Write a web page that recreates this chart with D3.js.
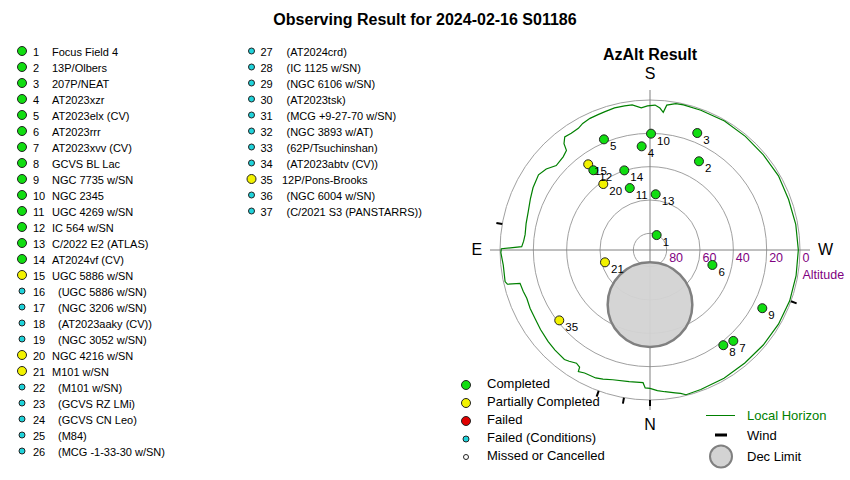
<!DOCTYPE html>
<html>
<head>
<meta charset="utf-8">
<script src="https://cdn.jsdelivr.net/npm/d3@7"></script>
<style>
  body { margin: 0; background: #fff; }
  svg { font-family: "Liberation Sans", Arial, sans-serif; display: block; }
</style>
</head>
<body>
<div id="chart"></div>
<script>
// target list (index + 1 = target number)
const targetNames = [
  "Focus Field 4", "13P/Olbers", "207P/NEAT", "AT2023xzr", "AT2023elx (CV)",
  "AT2023rrr", "AT2023xvv (CV)", "GCVS BL Lac", "NGC 7735 w/SN", "NGC 2345",
  "UGC 4269 w/SN", "IC 564 w/SN", "C/2022 E2 (ATLAS)", "AT2024vf (CV)", "UGC 5886 w/SN",
  "(UGC 5886 w/SN)", "(NGC 3206 w/SN)", "(AT2023aaky (CV))", "(NGC 3052 w/SN)", "NGC 4216 w/SN",
  "M101 w/SN", "(M101 w/SN)", "(GCVS RZ LMi)", "(GCVS CN Leo)", "(M84)",
  "(MCG -1-33-30 w/SN)", "(AT2024crd)", "(IC 1125 w/SN)", "(NGC 6106 w/SN)", "(AT2023tsk)",
  "(MCG +9-27-70 w/SN)", "(NGC 3893 w/AT)", "(62P/Tsuchinshan)", "(AT2023abtv (CV))", "12P/Pons-Brooks",
  "(NGC 6004 w/SN)", "(C/2021 S3 (PANSTARRS))"
];
// C = completed, P = partially completed, F = failed, FC = failed (conditions), M = missed
const targetStatus = [
  "C", "C", "C", "C", "C", "C", "C", "C", "C", "C",
  "C", "C", "C", "C", "P", "FC", "FC", "FC", "FC", "P",
  "P", "FC", "FC", "FC", "FC", "FC", "FC", "FC", "FC", "FC",
  "FC", "FC", "FC", "FC", "P", "FC", "FC"
];

// observed positions (azimuth / altitude, degrees)
const plotIds = [1, 2, 3, 4, 5, 6, 7, 8, 9, 10, 11, 12, 13, 14, 15, 20, 21, 35];
const plotAz  = [204, 208.9, 202, 175.4, 157.4, 283.5, 317.5, 322.4, 297.4, 180.5, 161.9, 144.6, 185.8, 162.1, 144.2, 144.7, 74.7, 52.2];
const plotAlt = [80.2, 29.2, 14.3, 27.6, 18.1, 51.5, 16, 17.9, 14.1, 20.2, 50.9, 31.3, 56.4, 39.8, 26.6, 41.5, 62, 21.1];

// local horizon profile
const horizonAz  = [0, 2, 3, 9, 16, 20, 23, 28, 30.5, 31, 33, 36, 38, 43.5, 48, 54, 59, 64, 68.6, 72, 75.6, 76.5, 77.7, 84, 89, 90.5,
  91.5, 94, 97, 102, 107.5, 113, 118, 124, 128, 132, 137, 140, 141, 143, 146, 149.5, 152, 155.5, 159, 162, 166, 170, 173,
  176.5, 179, 182, 184, 185.5, 186.6, 190, 193, 200, 210, 220, 230, 240, 250, 260, 270, 280, 290, 300, 310, 320, 330, 340,
  346, 348, 350, 354, 357, 360];
const horizonAlt = [7, 7.2, 10.3, 10, 9, 7.5, 6.6, 6.4, 5.3, 8, 9, 7.5, 6.6, 7.2, 7.8, 8.8, 9.7, 10, 10.6, 10, 9.5, 2, 1, 1.5, 0.5, 0.8,
  13, 14, 14.5, 14, 13.4, 12, 10.5, 9.3, 11, 14.3, 13.6, 12, 8, 5, 5.5, 5.3, 4, 3.2, 3, 2.7, 2.1, 2.2, 2.3,
  4.5, 3.5, 3, 4.6, 7, 2.5, 0.8, 0.6, 0.8, 0.6, 1, 1.2, 1, 1.5, 1.2, 1, 1, 0.8, 1, 1.3, 1.5, 1.2, 0.9,
  0.5, 2, 3, 4.5, 5.5, 7];

const windAz = [100, 290, 20, 10, 0];
const altRings = [80, 60, 40, 20, 0];
const decLimit = { az: 0, alt: 57.2, radius: 25.4 };

const statusColor = { C: "#11dd11", P: "#f2f200", F: "#e00000", FC: "#1fd3db", M: "#ffffff" };
const statusRadius = { C: 4.5, P: 4.5, F: 4.5, FC: 3, M: 2.5 };
const legendItems = [
  ["C", "Completed"], ["P", "Partially Completed"], ["F", "Failed"],
  ["FC", "Failed (Conditions)"], ["M", "Missed or Cancelled"]
];

const width = 850, height = 480;
const cx = 650, cy = 250, R = 150;
const purple = "#800080", green = "#008000";

const svg = d3.select("#chart").append("svg")
  .attr("width", width)
  .attr("height", height);

svg.append("text")
  .attr("x", 425).attr("y", 25)
  .attr("text-anchor", "middle")
  .style("font-size", "16px").style("font-weight", "bold")
  .text("Observing Result for 2024-02-16 S01186");

// ---- target list ----
const list = svg.append("g").attr("class", "list");
targetNames.forEach((name, i) => {
  const col = i < 26 ? 0 : 1;
  const row = col ? i - 26 : i;
  const y = 52 + row * 16;
  const st = targetStatus[i];
  const dotX = col ? 251.5 : 22, numX = col ? 260.5 : 33;
  let nameX = col ? 282 : 52;
  if (name.startsWith("(")) nameX += col ? 4.5 : 6;
  list.append("circle")
    .attr("cx", dotX).attr("cy", y - 1)
    .attr("r", statusRadius[st])
    .attr("fill", statusColor[st])
    .attr("stroke", "#222").attr("stroke-width", 1);
  list.append("text").attr("x", numX).attr("y", y + 4)
    .style("font-size", "11px").text(i + 1);
  list.append("text").attr("x", nameX).attr("y", y + 4)
    .style("font-size", "11px").text(name);
});

// ---- AzAlt plot ----
// S up, N down, E left, W right
const rScale = d3.scaleLinear().domain([90, 0]).range([0, R]);
const rad = d => d * Math.PI / 180;
function project(az, alt) {
  const r = rScale(alt);
  return [cx - r * Math.sin(rad(az)), cy + r * Math.cos(rad(az))];
}

svg.append("text")
  .attr("x", cx).attr("y", 60).attr("text-anchor", "middle")
  .style("font-size", "16px").style("font-weight", "bold")
  .text("AzAlt Result");

const plot = svg.append("g");

plot.selectAll(".ring").data(altRings).enter().append("circle")
  .attr("class", "ring")
  .attr("cx", cx).attr("cy", cy)
  .attr("r", d => rScale(d))
  .attr("fill", "none").attr("stroke", "#a0a0a0").attr("stroke-width", 1);

plot.append("line")
  .attr("x1", cx).attr("x2", cx).attr("y1", 90).attr("y2", 410)
  .attr("stroke", "#808080");
plot.append("line")
  .attr("x1", 490).attr("x2", 810).attr("y1", cy).attr("y2", cy)
  .attr("stroke", "#808080");

// dec limit
const decC = project(decLimit.az, decLimit.alt);
plot.append("circle")
  .attr("cx", decC[0]).attr("cy", decC[1])
  .attr("r", rScale(90 - decLimit.radius))
  .attr("fill", "#d3d3d3").attr("fill-opacity", 0.95)
  .attr("stroke", "#808080").attr("stroke-width", 2.5);

// horizon
const horizon = horizonAz.map((az, i) => project(az, horizonAlt[i]));
plot.append("path")
  .datum(horizon)
  .attr("d", d3.line())
  .attr("fill", "none").attr("stroke", green).attr("stroke-width", 1.2);

// wind marks
plot.selectAll(".wind").data(windAz).enter().append("line")
  .attr("class", "wind")
  .attr("x1", d => cx - R * Math.sin(rad(d)))
  .attr("y1", d => cy + R * Math.cos(rad(d)))
  .attr("x2", d => cx - (R + 6) * Math.sin(rad(d)))
  .attr("y2", d => cy + (R + 6) * Math.cos(rad(d)))
  .attr("stroke", "#000").attr("stroke-width", 2);

// altitude labels
plot.selectAll(".altlab").data(altRings).enter().append("text")
  .attr("x", d => cx + rScale(d) + 2.5).attr("y", cy + 12)
  .attr("fill", purple).style("font-size", "12.5px")
  .text(d => d);
plot.append("text").attr("x", 802.5).attr("y", 279)
  .attr("fill", purple).style("font-size", "12.5px").text("Altitude");

// compass letters
[["S", cx, 79, "middle"], ["N", cx, 430, "middle"], ["E", 471.5, 255, "start"], ["W", 818, 255, "start"]]
  .forEach(([t, x, y, a]) => plot.append("text").attr("x", x).attr("y", y)
    .attr("text-anchor", a).style("font-size", "16px").text(t));

// targets (partials first so completed sit on top)
const pts = plotIds.map((id, i) => ({ id, st: targetStatus[id - 1], p: project(plotAz[i], plotAlt[i]) }))
  .sort((a, b) => (a.st === "P" ? 0 : 1) - (b.st === "P" ? 0 : 1));
plot.selectAll(".pt").data(pts).enter().append("circle")
  .attr("class", "pt")
  .attr("cx", d => d.p[0]).attr("cy", d => d.p[1])
  .attr("r", d => statusRadius[d.st])
  .attr("fill", d => statusColor[d.st])
  .attr("stroke", "#222").attr("stroke-width", 1);
plot.selectAll(".ptlab").data(pts).enter().append("text")
  .attr("x", d => d.p[0] + 6).attr("y", d => d.p[1] + 11)
  .style("font-size", "11.5px")
  .text(d => d.id);

// ---- legends ----
const leg = svg.append("g");
legendItems.forEach(([st, label], i) => {
  const y = 388 + i * 18;
  leg.append("circle").attr("cx", 466).attr("cy", y - 3)
    .attr("r", statusRadius[st]).attr("fill", statusColor[st])
    .attr("stroke", "#222").attr("stroke-width", 1);
  leg.append("text").attr("x", 487).attr("y", y)
    .style("font-size", "13px").text(label);
});

leg.append("line").attr("x1", 706).attr("x2", 735).attr("y1", 415.5).attr("y2", 415.5)
  .attr("stroke", green);
leg.append("text").attr("x", 747).attr("y", 420).attr("fill", green)
  .style("font-size", "13px").text("Local Horizon");
leg.append("line").attr("x1", 715).attr("x2", 727).attr("y1", 435).attr("y2", 435)
  .attr("stroke", "#000").attr("stroke-width", 3);
leg.append("text").attr("x", 747).attr("y", 440)
  .style("font-size", "13px").text("Wind");
leg.append("circle").attr("cx", 721).attr("cy", 456.5).attr("r", 11)
  .attr("fill", "#d3d3d3").attr("stroke", "#808080").attr("stroke-width", 2);
leg.append("text").attr("x", 747).attr("y", 461)
  .style("font-size", "13px").text("Dec Limit");
</script>
</body>
</html>
